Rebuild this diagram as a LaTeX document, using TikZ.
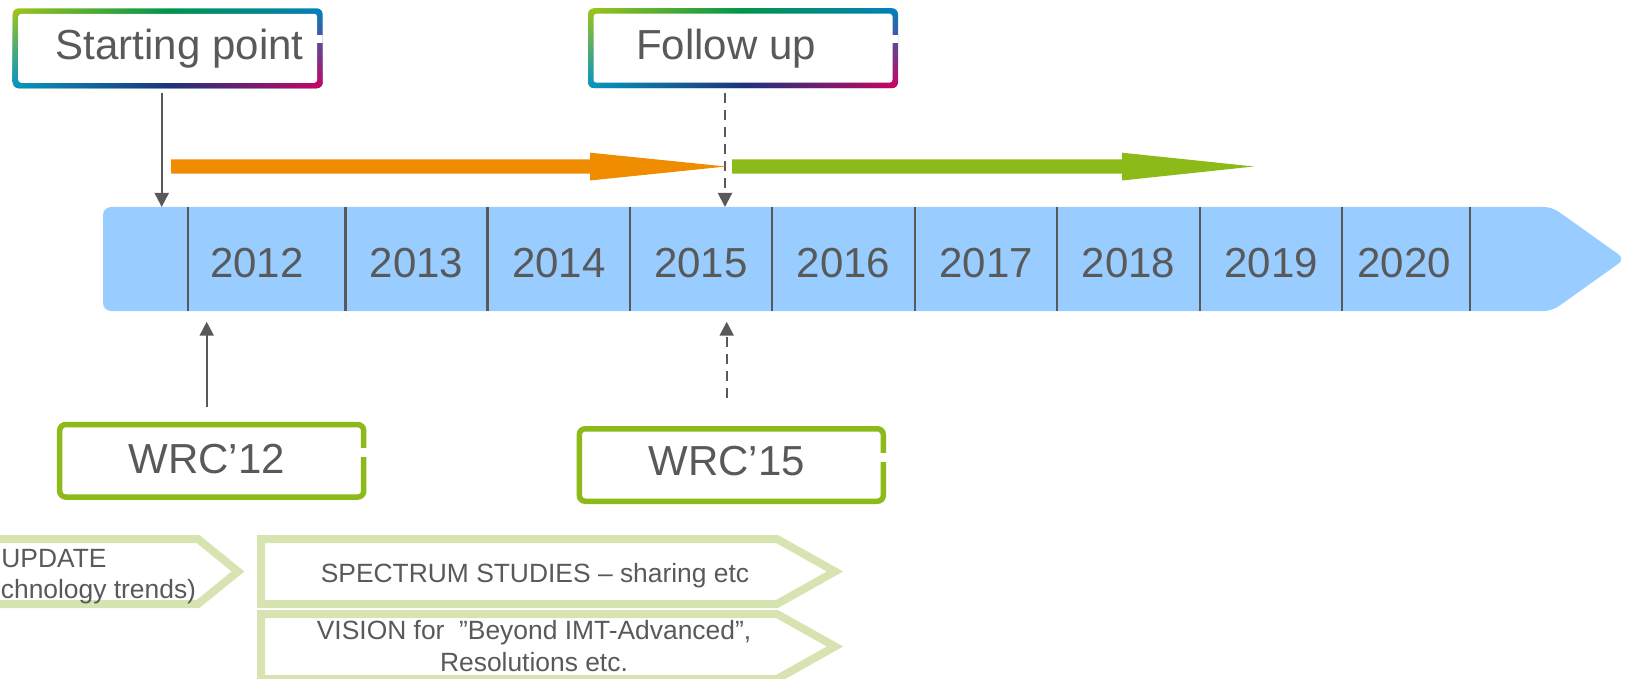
\documentclass[tikz,border=0pt]{standalone}
\usepackage{fontspec}
\setmainfont{Liberation Sans}
\usepackage{tikz}
\usetikzlibrary{arrows.meta}
\usetikzlibrary{calc}
\usetikzlibrary{fadings}
\definecolor{tlgray}{HTML}{595959}
\definecolor{tlblue}{HTML}{99CCFF}
\definecolor{tlorange}{HTML}{F08C00}
\definecolor{tlgreen}{HTML}{8CBA18}
\definecolor{tlpale}{HTML}{D7E4B2}
\definecolor{grdyg}{HTML}{A3C516}
\definecolor{grdgr}{HTML}{00984A}
\definecolor{grdbl}{HTML}{0083C1}
\definecolor{grdcy}{HTML}{0096C6}
\definecolor{grdnv}{HTML}{1F2F80}
\definecolor{grdmg}{HTML}{D2005F}
\newcommand{\tlyt}{207}
\newcommand{\tlyb}{311}
\newcommand{\tlym}{259}
\newcommand{\tlyn}{278}
\newcommand{\tlxl}{103}
\newcommand{\tlxr}{1552}
\newcommand{\tlxp}{1625}
\newcommand{\tlxa}{188}
\newcommand{\tlxb}{345.5}
\newcommand{\tlxc}{487.7}
\newcommand{\tlxd}{630}
\newcommand{\tlxe}{772}
\newcommand{\tlxf}{915}
\newcommand{\tlxg}{1057}
\newcommand{\tlxh}{1200}
\newcommand{\tlxi}{1342}
\newcommand{\tlxj}{1470}
\newcommand{\arwy}{166.5}
\newcommand{\arwst}{159.3}
\newcommand{\arwsb}{173.7}
\newcommand{\arwht}{152.7}
\newcommand{\arwhb}{180.5}
\newcommand{\chvyt}{539}
\newcommand{\chvym}{571.5}
\newcommand{\chvyb}{604}
\newcommand{\chvzt}{614}
\newcommand{\chvzm}{646.5}
\newcommand{\chvzb}{679}
\newcommand{\bigfont}{\fontsize{21pt}{25pt}\selectfont}
\newcommand{\smlfont}{\fontsize{13.2pt}{16pt}\selectfont}
\tikzset{
  yearlbl/.style={anchor=base, text=tlgray, font=\bigfont, inner sep=0pt},
  tlsep/.style={draw=tlgray, line width=1.25pt},
  conn/.style={draw=tlgray, line width=1pt, -{Triangle[width=7pt,length=7pt]}},
  dconn/.style={conn, dash pattern=on 5pt off 3.5pt},
  chevron/.style={draw=tlpale, line width=4pt, miter limit=10},
  chvtext/.style={text=tlgray, font=\smlfont, inner sep=0pt},
  wrcbox/.style={draw=tlgreen, line width=2.75pt, rounded corners=3pt,
    minimum width=152pt, minimum height=36.25pt, inner sep=0pt,
    text=tlgray, font=\bigfont},
  gradbox/.style={minimum width=155pt, minimum height=40pt, inner sep=0pt,
    rounded corners=3pt, text=tlgray, font=\bigfont,
    path picture={
      \shade[left color=grdyg, right color=grdbl, middle color=grdgr]
        (path picture bounding box.north west)
        rectangle (path picture bounding box.south east);
      \shade[left color=grdcy, right color=grdmg, middle color=grdnv,
        path fading=north]
        (path picture bounding box.north west)
        rectangle (path picture bounding box.south east);
      \fill[white, rounded corners=1.5pt]
        ($(path picture bounding box.north west)+(5.5,5.5)$)
        rectangle ($(path picture bounding box.south east)+(-5.5,-5.5)$);
      \fill[white, sharp corners]
        ($(path picture bounding box.north east)+(-7,26.7)$)
        rectangle ($(path picture bounding box.north east)+(1,34.7)$);
    }}
}
\begin{document}
\begin{tikzpicture}[x=0.5pt, y=-0.5pt]
  \useasboundingbox (0,0) rectangle (1627,679);
  \clip (0,0) rectangle (1627,679);

  \fill[tlblue, rounded corners=4pt] (\tlxl,\tlyt) -- (\tlxr,\tlyt)
    -- (\tlxp,\tlym) -- (\tlxr,\tlyb) -- (\tlxl,\tlyb) -- cycle;
  \draw[tlsep] (\tlxa,\tlyt) -- (\tlxa,\tlyb);
  \draw[tlsep] (\tlxb,\tlyt) -- (\tlxb,\tlyb);
  \draw[tlsep] (\tlxc,\tlyt) -- (\tlxc,\tlyb);
  \draw[tlsep] (\tlxd,\tlyt) -- (\tlxd,\tlyb);
  \draw[tlsep] (\tlxe,\tlyt) -- (\tlxe,\tlyb);
  \draw[tlsep] (\tlxf,\tlyt) -- (\tlxf,\tlyb);
  \draw[tlsep] (\tlxg,\tlyt) -- (\tlxg,\tlyb);
  \draw[tlsep] (\tlxh,\tlyt) -- (\tlxh,\tlyb);
  \draw[tlsep] (\tlxi,\tlyt) -- (\tlxi,\tlyb);
  \draw[tlsep] (\tlxj,\tlyt) -- (\tlxj,\tlyb);

  \node[yearlbl] (y2012) at (257,\tlyn) {2012};
  \node[yearlbl] (y2013) at ($0.5*(\tlxb,\tlyn) + 0.5*(\tlxc,\tlyn)$) {2013};
  \node[yearlbl] (y2014) at ($0.5*(\tlxc,\tlyn) + 0.5*(\tlxd,\tlyn)$) {2014};
  \node[yearlbl] (y2015) at ($0.5*(\tlxd,\tlyn) + 0.5*(\tlxe,\tlyn)$) {2015};
  \node[yearlbl] (y2016) at ($0.5*(\tlxe,\tlyn) + 0.5*(\tlxf,\tlyn)$) {2016};
  \node[yearlbl] (y2017) at ($0.5*(\tlxf,\tlyn) + 0.5*(\tlxg,\tlyn)$) {2017};
  \node[yearlbl] (y2018) at ($0.5*(\tlxg,\tlyn) + 0.5*(\tlxh,\tlyn)$) {2018};
  \node[yearlbl] (y2019) at ($0.5*(\tlxh,\tlyn) + 0.5*(\tlxi,\tlyn)$) {2019};
  \node[yearlbl] (y2020) at (1404,\tlyn) {2020};

  \node[gradbox] (start) at (167.7,48.3) {\hspace*{12pt}Starting point};
  \node[gradbox] (follow) at (743,48.2) {Follow up\hspace*{17pt}};
  \node[wrcbox] (wrc12) at (211.7,460.8) {\raisebox{1.5pt}{WRC’12}\hspace*{5pt}};
  \node[wrcbox] (wrc15) at (731.3,465) {\raisebox{4pt}{WRC’15}\hspace*{4.6pt}};
  \fill[white] ($(wrc12.north east)+(-6,26.3)$)
    rectangle ($(wrc12.north east)+(2,35.3)$);
  \fill[white] ($(wrc15.north east)+(-6,27)$)
    rectangle ($(wrc15.north east)+(2,36)$);

  \coordinate (sptip) at (161.7,\tlyt);
  \coordinate (futip) at (725,\tlyt);
  \coordinate (w12tip) at (206.7,321.7);
  \coordinate (w15tip) at (726.7,321.7);
  \draw[conn, shorten <=2.35pt] (start.south -| sptip) -- (sptip);
  \draw[dconn, shorten <=2.35pt] (follow.south -| futip) -- (futip);
  \draw[conn, shorten <=7.5pt] (wrc12.north -| w12tip) -- (w12tip);
  \draw[dconn, shorten <=14pt] (wrc15.north -| w15tip) -- (w15tip);

  \fill[tlorange] (171,\arwst) -- (590,\arwst) -- (590,\arwht) -- (726,\arwy)
    -- (590,\arwhb) -- (590,\arwsb) -- (171,\arwsb) -- cycle;
  \fill[tlgreen] (732,\arwst) -- (1122,\arwst) -- (1122,\arwht) -- (1254,\arwy)
    -- (1122,\arwhb) -- (1122,\arwsb) -- (732,\arwsb) -- cycle;

  \draw[chevron] (-20,\chvyt) -- (198,\chvyt) -- (238,\chvym)
    -- (198,\chvyb) -- (-20,\chvyb);
  \draw[chevron] (261,\chvyt) -- (777,\chvyt) -- (835,\chvym)
    -- (777,\chvyb) -- (261,\chvyb) -- cycle;
  \draw[chevron] (261,\chvzt) -- (777,\chvzt) -- (835,\chvzm)
    -- (777,\chvzb) -- (261,\chvzb) -- cycle;

  \node[chvtext, anchor=base west] (upda) at (1,567) {UPDATE};
  \node[chvtext, anchor=base west] (updb) at (0.5,598) {chnology trends)};
  \node[chvtext, anchor=base] (spec) at (535,582)
    {SPECTRUM STUDIES – sharing etc};
  \node[chvtext, align=center] (vision) at (534,646)
    {VISION for~~”Beyond IMT-Advanced”,\\Resolutions etc.};
\end{tikzpicture}
\end{document}
